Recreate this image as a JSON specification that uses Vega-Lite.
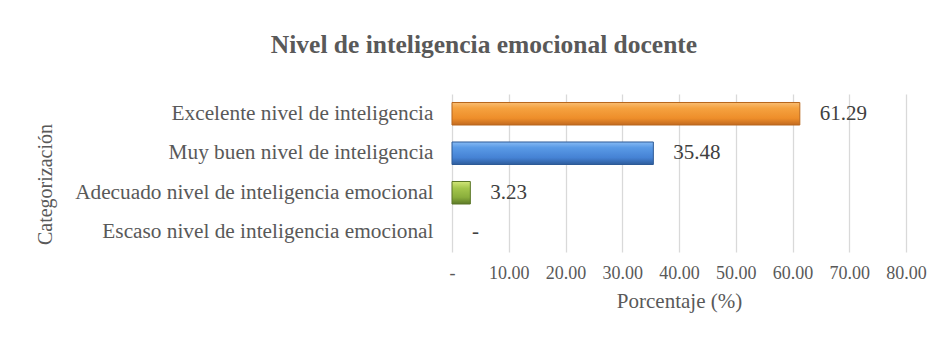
{
  "$schema": "https://vega.github.io/schema/vega-lite/v6.json",
  "autosize": "none",
  "width": 454,
  "height": 158,
  "padding": {"left": 452, "top": 94, "right": 40, "bottom": 93},
  "background": "white",
  "config": {"view": {"stroke": null}},
  "title": {
    "text": "Nivel de inteligencia emocional docente",
    "font": "Liberation Serif",
    "fontSize": 25.5,
    "fontWeight": "bold",
    "color": "#595959",
    "anchor": "middle",
    "frame": "group",
    "baseline": "alphabetic",
    "offset": 16,
    "dx": -195
  },
  "data": {
    "values": [
      {"categoria": "Excelente nivel de inteligencia", "porcentaje": 61.29},
      {"categoria": "Muy buen nivel de inteligencia", "porcentaje": 35.48},
      {"categoria": "Adecuado nivel de inteligencia emocional", "porcentaje": 3.23},
      {"categoria": "Escaso nivel de inteligencia emocional", "porcentaje": 0}
    ]
  },
  "encoding": {
    "y": {
      "field": "categoria",
      "type": "nominal",
      "sort": null,
      "scale": {"paddingInner": 0.43, "paddingOuter": 0.215},
      "axis": {
        "title": "Categorización",
        "titleFont": "Liberation Serif",
        "titleFontSize": 20,
        "titleFontWeight": "normal",
        "titleColor": "#595959",
        "titleAngle": -90,
        "titleAlign": "center",
        "titleBaseline": "middle",
        "titleX": -407,
        "titleY": 90,
        "labelFont": "Liberation Serif",
        "labelFontSize": 21.3,
        "labelColor": "#595959",
        "labelPadding": 19,
        "labelLimit": 500,
        "ticks": false,
        "domain": false,
        "grid": false
      }
    },
    "x": {
      "field": "porcentaje",
      "type": "quantitative",
      "scale": {"domain": [0, 80], "nice": false},
      "axis": {
        "title": "Porcentaje (%)",
        "titleFont": "Liberation Serif",
        "titleFontSize": 21,
        "titleFontWeight": "normal",
        "titleColor": "#595959",
        "titlePadding": 8,
        "values": [0, 10, 20, 30, 40, 50, 60, 70, 80],
        "labelExpr": "datum.value == 0 ? '-' : format(datum.value, '.2f')",
        "labelOverlap": false,
        "labelFlush": false,
        "labelFont": "Liberation Serif",
        "labelFontSize": 18,
        "labelColor": "#595959",
        "labelPadding": 12,
        "ticks": false,
        "domain": false,
        "grid": true,
        "gridColor": "#D9D9D9",
        "gridWidth": 1.3
      }
    }
  },
  "layer": [
    {
      "transform": [{"filter": "datum.categoria == 'Excelente nivel de inteligencia'"}],
      "mark": {
        "type": "bar",
        "stroke": "#B8661C",
        "strokeWidth": 1,
        "color": {
          "gradient": "linear", "x1": 0, "y1": 0, "x2": 0, "y2": 1,
          "stops": [
            {"offset": 0, "color": "#F9BD72"},
            {"offset": 0.25, "color": "#F5A240"},
            {"offset": 0.7, "color": "#EE8E2A"},
            {"offset": 1, "color": "#C26A20"}
          ]
        }
      }
    },
    {
      "transform": [{"filter": "datum.categoria == 'Muy buen nivel de inteligencia'"}],
      "mark": {
        "type": "bar",
        "stroke": "#2D5A96",
        "strokeWidth": 1,
        "color": {
          "gradient": "linear", "x1": 0, "y1": 0, "x2": 0, "y2": 1,
          "stops": [
            {"offset": 0, "color": "#86BAF4"},
            {"offset": 0.25, "color": "#5A9AE6"},
            {"offset": 0.7, "color": "#4582D4"},
            {"offset": 1, "color": "#2E5C9C"}
          ]
        }
      }
    },
    {
      "transform": [{"filter": "datum.categoria == 'Adecuado nivel de inteligencia emocional'"}],
      "mark": {
        "type": "bar",
        "stroke": "#5A7526",
        "strokeWidth": 1,
        "color": {
          "gradient": "linear", "x1": 0, "y1": 0, "x2": 0, "y2": 1,
          "stops": [
            {"offset": 0, "color": "#D2E678"},
            {"offset": 0.3, "color": "#A4C64C"},
            {"offset": 0.7, "color": "#8AAE3C"},
            {"offset": 1, "color": "#5E7A28"}
          ]
        }
      }
    },
    {
      "mark": {
        "type": "text",
        "align": "left",
        "baseline": "middle",
        "dx": 20,
        "font": "Liberation Serif",
        "fontSize": 21,
        "color": "#404040"
      },
      "encoding": {
        "text": {
          "condition": {"test": "datum.porcentaje == 0", "value": "-"},
          "field": "porcentaje",
          "type": "quantitative",
          "format": ".2f"
        }
      }
    }
  ]
}
